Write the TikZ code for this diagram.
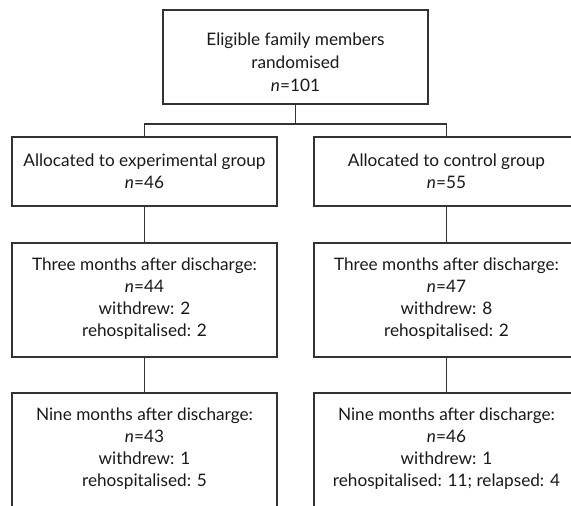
\documentclass[tikz,border=0pt]{standalone}
\usepackage{fontspec}
\setmainfont{Lato}
\usepackage{tikz}

\begin{document}
\begin{tikzpicture}[x=1pt, y=-1pt, thick,
        box/.style = {draw=black!80, line width=1.6pt, align=center, minimum width=265pt, inner sep=0pt,
                      font=\fontsize{17.2}{22}\selectfont, text=black!90},
        link/.style = {draw=black!80, line width=1.6pt}]
        \useasboundingbox (0,0) rectangle (571,506);
        \clip (0,0) rectangle (571,506);

        \node[box, minimum height=94pt] (rand) at (295.5,57) {Eligible family members\\[1pt]randomised\\[1pt]\textit{n}=101\\[-32pt]};

        \node[box, minimum height=69pt] (exp) at (144.5,171.5) {Allocated to experimental group\\\textit{n}=46};
        \node[box, minimum height=69pt] (ctl) at (446.5,171.5) {Allocated to control group\\\textit{n}=55};

        \node[box, minimum height=114pt] (exp3) at (144.5,300) {Three months after discharge:\\\textit{n}=44\\withdrew: 2\\rehospitalised: 2\\[-16pt]};
        \node[box, minimum height=114pt] (ctl3) at (446.5,300) {Three months after discharge:\\\textit{n}=47\\withdrew: 8\\rehospitalised: 2\\[-16pt]};

        \node[box, minimum height=127pt] (exp9) at (144.5,456.5) {Nine months after discharge:\\\textit{n}=43\\withdrew: 1\\rehospitalised: 5\\[-4pt]};
        \node[box, minimum height=127pt] (ctl9) at (446.5,456.5) {Nine months after discharge:\\\textit{n}=46\\withdrew: 1\\rehospitalised: 11; relapsed: 4\\[-4pt]};

        \coordinate (split) at (295.5,124);

        % randomisation split
        \path[link] (rand) -- (split);
        \path[link] (exp.north) |- (split) -| (ctl.north);

        % follow-up
        \path[link] (exp) -- (exp3);
        \path[link] (ctl) -- (ctl3);
        \path[link] (exp3) -- (exp9);
        \path[link] (ctl3) -- (ctl9);

    \end{tikzpicture}
\end{document}
